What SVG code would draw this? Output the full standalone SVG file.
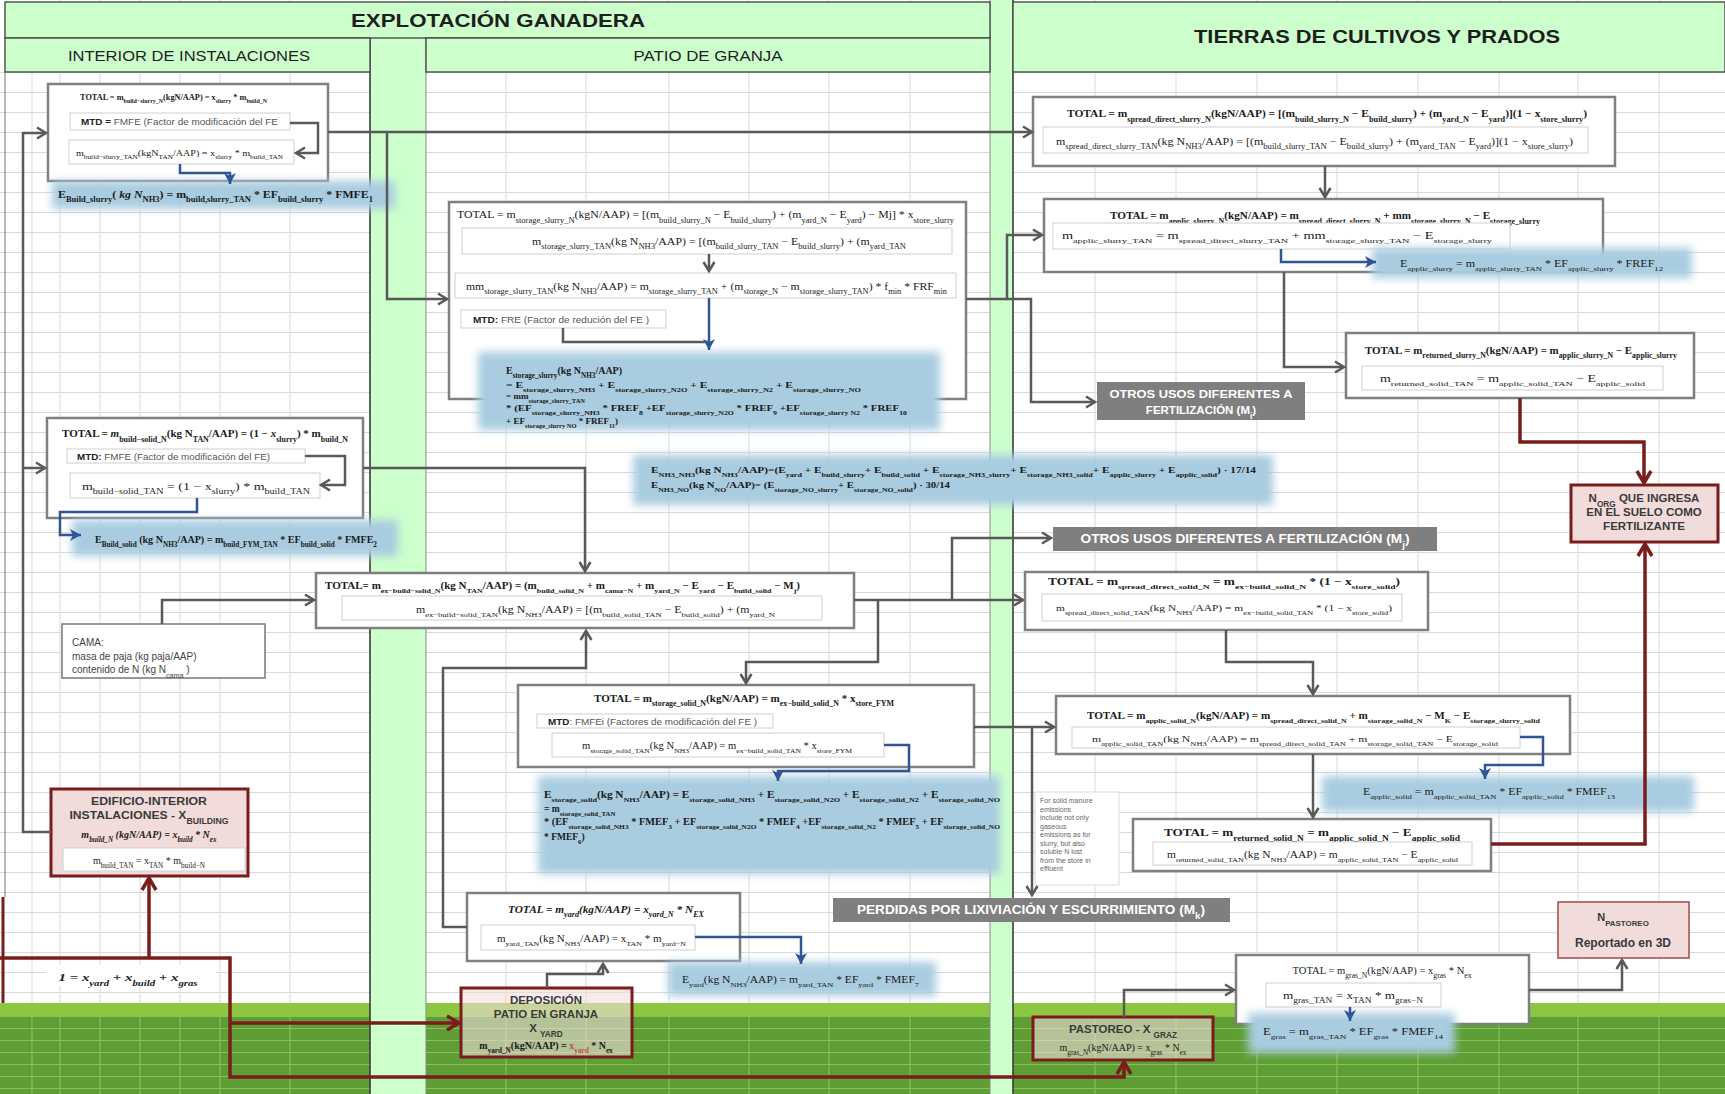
<svg xmlns="http://www.w3.org/2000/svg" width="1725" height="1094" viewBox="0 0 1725 1094">
<defs>
<style>
.bx{fill:#fff;stroke:#7f7f7f;stroke-width:2.5}
.in{fill:#fff;stroke:#cfcfcf;stroke-width:1}
.rd{fill:#f2dcdb;stroke:#7a1c1c;stroke-width:3}
.rdt{fill:#f2dcdb;fill-opacity:.6;stroke:#7a1c1c;stroke-width:3}
.gb{fill:#7f7f7f}
.gl{fill:#a9cce0;filter:url(#blur)}
.f{font-family:"Liberation Serif","DejaVu Serif",serif;fill:#1a1a1a}
.b{font-weight:bold}
.it{font-style:italic}
.s{font-size:72%;baseline-shift:sub}
.sa{font-family:"Liberation Sans",Arial,sans-serif}
.wt{fill:#fff;font-weight:bold;font-family:"Liberation Sans",Arial,sans-serif}
.dr{fill:#3a3a3a;font-weight:bold;font-family:"Liberation Sans",Arial,sans-serif}
.hd{fill:#1e1e1e;font-family:"Liberation Sans",Arial,sans-serif}
.cg{fill:none;stroke:#595959;stroke-width:2.5;marker-end:url(#ag)}
.cb{fill:none;stroke:#2f5597;stroke-width:2.5;marker-end:url(#ab)}
.cr{fill:none;stroke:#7a1c1c;stroke-width:3.5;marker-end:url(#ar)}
.nm{fill:none;stroke:#595959;stroke-width:2.5}
</style>
<filter id="blur" x="-10%" y="-40%" width="120%" height="180%"><feGaussianBlur stdDeviation="4"/></filter>
<pattern id="rows" patternUnits="userSpaceOnUse" x="0" y="72" width="40" height="20"><path d="M0,0.5H40" stroke="#d9d9d9" stroke-width="1"/></pattern>
<pattern id="grows" patternUnits="userSpaceOnUse" x="0" y="1016" width="40" height="12"><path d="M0,0.5H40" stroke="#86c060" stroke-width="1.2"/></pattern>
<marker id="ag" markerUnits="userSpaceOnUse" markerWidth="14" markerHeight="14" refX="11" refY="7" orient="auto"><path d="M2,1.5L11,7L2,12.5" fill="none" stroke="#595959" stroke-width="2.5"/></marker>
<marker id="ab" markerUnits="userSpaceOnUse" markerWidth="14" markerHeight="14" refX="11" refY="7" orient="auto"><path d="M0,1L11,7L0,13L3,7z" fill="#2f5597"/></marker>
<marker id="ar" markerUnits="userSpaceOnUse" markerWidth="18" markerHeight="18" refX="14" refY="9" orient="auto"><path d="M2,2L14,9L2,16" fill="none" stroke="#7a1c1c" stroke-width="3.5"/></marker>
</defs>

<!-- background grid -->
<rect x="0" y="0" width="1725" height="1094" fill="#fff"/>
<rect x="0" y="72" width="1725" height="931" fill="url(#rows)"/>
<path d="M32,0V1003M60,0V1003M100,0V1003M140,0V1003M180,0V1003M220,0V1003M290,0V1003M506,0V1003M586,0V1003M669,0V1003M749,0V1003M829,0V1003M910,0V1003M1095,0V1003M1176,0V1003M1257,0V1003M1337,0V1003M1418,0V1003M1499,0V1003M1578,0V1003M1659,0V1003" stroke="#d9d9d9" stroke-width="1"/>
<!-- grass -->
<rect x="0" y="1003" width="1725" height="91" fill="#5e9e35"/>
<rect x="0" y="1016" width="1725" height="78" fill="url(#grows)"/>
<path d="M32,1016V1094M60,1016V1094M100,1016V1094M140,1016V1094M180,1016V1094M220,1016V1094M290,1016V1094M506,1016V1094M586,1016V1094M669,1016V1094M749,1016V1094M829,1016V1094M910,1016V1094M1095,1016V1094M1176,1016V1094M1257,1016V1094M1337,1016V1094M1418,1016V1094M1499,1016V1094M1578,1016V1094M1659,1016V1094" stroke="#86c060" stroke-width="1.2"/>
<rect x="0" y="1003" width="1725" height="13" fill="#8dc63f"/>
<!-- light green columns -->
<rect x="370" y="38" width="56" height="1056" fill="#ccffcc"/>
<rect x="990" y="0" width="23" height="1094" fill="#ccffcc"/>
<path d="M426,38V1094M990,0V1094" stroke="#8a8a8a" stroke-width="1"/>
<path d="M370,38V1094M1013,0V1094" stroke="#3a3a3a" stroke-width="1.6"/>
<path d="M5,72V897" stroke="#8a8a8a" stroke-width="1.2"/>

<!-- headers -->
<g id="header-explotacion">
<rect x="5" y="2" width="985" height="36" fill="#ccffcc" stroke="#4a4a4a" stroke-width="1.4"/>
<text class="hd b" x="498" y="27" font-size="18" text-anchor="middle" textLength="294" lengthAdjust="spacingAndGlyphs">EXPLOTACIÓN GANADERA</text>
</g>
<g id="header-interior">
<rect x="5" y="38" width="365" height="34" fill="#ccffcc" stroke="#4a4a4a" stroke-width="1.4"/>
<text class="hd" x="189" y="61" font-size="15" text-anchor="middle" textLength="242" lengthAdjust="spacingAndGlyphs">INTERIOR DE INSTALACIONES</text>
</g>
<g id="header-patio">
<rect x="426" y="38" width="564" height="34" fill="#ccffcc" stroke="#4a4a4a" stroke-width="1.4"/>
<text class="hd" x="708" y="61" font-size="15" text-anchor="middle" textLength="149" lengthAdjust="spacingAndGlyphs">PATIO DE GRANJA</text>
</g>
<g id="header-tierras">
<rect x="1013" y="2" width="712" height="70" fill="#ccffcc" stroke="#4a4a4a" stroke-width="1.4"/>
<text class="hd b" x="1377" y="43" font-size="19" text-anchor="middle" textLength="366" lengthAdjust="spacingAndGlyphs">TIERRAS DE CULTIVOS Y PRADOS</text>
</g>

<!-- NODES -->
<g id="build-slurry">
<rect class="bx" x="48" y="84" width="280" height="97"/>
<text class="f b" x="80" y="100" font-size="8.5" textLength="187" lengthAdjust="spacingAndGlyphs">TOTAL = m<tspan class="s">build−slurry_N</tspan>(kgN/AAP) = x<tspan class="s">slurry</tspan> * m<tspan class="s">build_N</tspan></text>
<rect class="in" x="70" y="113" width="220" height="17"/>
<text class="sa" x="81" y="125" font-size="9" fill="#555" textLength="197" lengthAdjust="spacingAndGlyphs"><tspan font-weight="bold" fill="#222">MTD = </tspan> FMFE (Factor de modificación del FE</text>
<rect class="in" x="69" y="140" width="225" height="24"/>
<text class="f" x="76" y="156" font-size="8.5" textLength="207" lengthAdjust="spacingAndGlyphs">m<tspan class="s">build−slurry_TAN</tspan>(kgN<tspan class="s">TAN</tspan>/AAP) = x<tspan class="s">slurry</tspan> * m<tspan class="s">build_TAN</tspan></text>
</g>

<g id="storage-slurry">
<rect class="bx" x="449" y="202" width="517" height="197"/>
<text class="f" x="457" y="218" font-size="10.5" textLength="497" lengthAdjust="spacingAndGlyphs">TOTAL = m<tspan class="s">storage_slurry_N</tspan>(kgN/AAP) = [(m<tspan class="s">build_slurry_N</tspan> − E<tspan class="s">build_slurry</tspan>) + (m<tspan class="s">yard_N</tspan> − E<tspan class="s">yard</tspan>) − Mj] * x<tspan class="s">store_slurry</tspan></text>
<rect class="in" x="462" y="228" width="490" height="26"/>
<text class="f" x="532" y="245" font-size="10" textLength="374" lengthAdjust="spacingAndGlyphs">m<tspan class="s">storage_slurry_TAN</tspan>(kg N<tspan class="s">NH3</tspan>/AAP) = [(m<tspan class="s">build_slurry_TAN</tspan> − E<tspan class="s">build_slurry</tspan>) + (m<tspan class="s">yard_TAN</tspan></text>
<rect class="in" x="455" y="273" width="501" height="25"/>
<text class="f" x="466" y="290" font-size="10" textLength="481" lengthAdjust="spacingAndGlyphs">mm<tspan class="s">storage_slurry_TAN</tspan>(kg N<tspan class="s">NH3</tspan>/AAP) = m<tspan class="s">storage_slurry_TAN</tspan> + (m<tspan class="s">storage_N</tspan> − m<tspan class="s">storage_slurry_TAN</tspan>) * f<tspan class="s">min</tspan> * FRF<tspan class="s">min</tspan></text>
<rect class="in" x="461" y="310" width="205" height="18"/>
<text class="sa" x="473" y="323" font-size="9" fill="#555" textLength="176" lengthAdjust="spacingAndGlyphs"><tspan font-weight="bold" fill="#222">MTD:</tspan>  FRE (Factor de redución del FE )</text>
</g>

<g id="build-solid">
<rect class="bx" x="47" y="418" width="316" height="100"/>
<text class="f b" x="62" y="437" font-size="10.5" textLength="286" lengthAdjust="spacingAndGlyphs">TOTAL = <tspan class="it">m</tspan><tspan class="s">build−solid_N</tspan>(kg N<tspan class="s">TAN</tspan>/AAP) = (1 − <tspan class="it">x</tspan><tspan class="s">slurry</tspan>) * m<tspan class="s">build_N</tspan></text>
<rect class="in" x="67" y="449" width="238" height="14"/>
<text class="sa" x="77" y="460" font-size="8.5" fill="#555" textLength="193" lengthAdjust="spacingAndGlyphs"><tspan font-weight="bold" fill="#222">MTD:</tspan> FMFE (Factor de modificación del FE)</text>
<rect class="in" x="70" y="473" width="250" height="25"/>
<text class="f" x="82" y="490" font-size="10" textLength="228" lengthAdjust="spacingAndGlyphs">m<tspan class="s">build−solid_TAN</tspan> = (1 − x<tspan class="s">slurry</tspan>) * m<tspan class="s">build_TAN</tspan></text>
</g>

<g id="cama">
<rect x="62" y="624" width="203" height="54" fill="#fff" stroke="#777" stroke-width="1.5"/>
<text class="sa" x="72" y="646" font-size="10" fill="#444">CAMA:</text>
<text class="sa" x="72" y="660" font-size="10" fill="#444">masa de paja (kg paja/AAP)</text>
<text class="sa" x="72" y="673" font-size="10" fill="#444">contenido de N (kg N<tspan class="s">cama</tspan> )</text>
</g>

<g id="ex-build-solid">
<rect class="bx" x="316" y="573" width="538" height="55"/>
<text class="f b" x="325" y="589" font-size="9.5" textLength="475" lengthAdjust="spacingAndGlyphs">TOTAL= m<tspan class="s">ex−build−solid_N</tspan>(kg N<tspan class="s">TAN</tspan>/AAP) = (m<tspan class="s">build_solid_N</tspan> + m<tspan class="s">cama−N</tspan> + m<tspan class="s">yard_N</tspan> − E<tspan class="s">yard</tspan> − E<tspan class="s">build_solid</tspan> − M<tspan class="s">j</tspan>)</text>
<rect class="in" x="342" y="596" width="480" height="24"/>
<text class="f" x="416" y="613" font-size="9.5" textLength="359" lengthAdjust="spacingAndGlyphs">m<tspan class="s">ex−build−solid_TAN</tspan>(kg N<tspan class="s">NH3</tspan>/AAP) = [(m<tspan class="s">build_solid_TAN</tspan> − E<tspan class="s">build_solid</tspan>) + (m<tspan class="s">yard_N</tspan></text>
</g>

<g id="storage-solid">
<rect class="bx" x="518" y="685" width="456" height="82"/>
<text class="f b" x="594" y="702" font-size="10" textLength="300" lengthAdjust="spacingAndGlyphs">TOTAL =  m<tspan class="s">storage_solid_N</tspan>(kgN/AAP) = m<tspan class="s">ex−build_solid_N</tspan> * x<tspan class="s">store_FYM</tspan></text>
<rect class="in" x="537" y="714" width="236" height="14"/>
<text class="sa" x="548" y="725" font-size="8.5" fill="#555" textLength="209" lengthAdjust="spacingAndGlyphs"><tspan font-weight="bold" fill="#222">MTD</tspan>: FMFEi (Factores de modificación del FE )</text>
<rect class="in" x="552" y="733" width="332" height="24"/>
<text class="f" x="582" y="749" font-size="9.5" textLength="270" lengthAdjust="spacingAndGlyphs">m<tspan class="s">storage_solid_TAN</tspan>(kg N<tspan class="s">NH3</tspan>/AAP) = m<tspan class="s">ex−build_solid_TAN</tspan> * x<tspan class="s">store_FYM</tspan></text>
</g>

<g id="spread-direct-slurry">
<rect class="bx" x="1033" y="97" width="582" height="69"/>
<text class="f b" x="1067" y="117" font-size="10.5" textLength="520" lengthAdjust="spacingAndGlyphs">TOTAL =  m<tspan class="s">spread_direct_slurry_N</tspan>(kgN/AAP) = [(m<tspan class="s">build_slurry_N</tspan> − E<tspan class="s">build_slurry</tspan>) + (m<tspan class="s">yard_N</tspan> − E<tspan class="s">yard</tspan>)](1 − x<tspan class="s">store_slurry</tspan>)</text>
<rect class="in" x="1043" y="127" width="545" height="26"/>
<text class="f" x="1056" y="145" font-size="10" textLength="517" lengthAdjust="spacingAndGlyphs">m<tspan class="s">spread_direct_slurry_TAN</tspan>(kg N<tspan class="s">NH3</tspan>/AAP) = [(m<tspan class="s">build_slurry_TAN</tspan> − E<tspan class="s">build_slurry</tspan>) + (m<tspan class="s">yard_TAN</tspan> − E<tspan class="s">yard</tspan>)](1 − x<tspan class="s">store_slurry</tspan>)</text>
</g>

<g id="applic-slurry">
<rect class="bx" x="1044" y="199" width="559" height="73"/>
<text class="f b" x="1110" y="219" font-size="10.5" textLength="430" lengthAdjust="spacingAndGlyphs">TOTAL =  m<tspan class="s">applic_slurry_N</tspan>(kgN/AAP) = m<tspan class="s">spread_direct_slurry_N</tspan> + mm<tspan class="s">storage_slurry_N</tspan> − E<tspan class="s">storage_slurry</tspan></text>
<rect class="in" x="1053" y="223" width="457" height="26"/>
<text class="f" x="1062" y="239" font-size="9.5" textLength="430" lengthAdjust="spacingAndGlyphs">m<tspan class="s">applic_slurry_TAN</tspan> = m<tspan class="s">spread_direct_slurry_TAN</tspan> + mm<tspan class="s">storage_slurry_TAN</tspan> − E<tspan class="s">storage_slurry</tspan></text>
</g>

<g id="returned-slurry">
<rect class="bx" x="1346" y="333" width="348" height="65"/>
<text class="f b" x="1365" y="354" font-size="10" textLength="312" lengthAdjust="spacingAndGlyphs">TOTAL =  m<tspan class="s">returned_slurry_N</tspan>(kgN/AAP) = m<tspan class="s">applic_slurry_N</tspan> − E<tspan class="s">applic_slurry</tspan></text>
<rect class="in" x="1362" y="366" width="301" height="24"/>
<text class="f" x="1380" y="382" font-size="9.5" textLength="265" lengthAdjust="spacingAndGlyphs">m<tspan class="s">returned_solid_TAN</tspan> = m<tspan class="s">applic_solid_TAN</tspan> − E<tspan class="s">applic_solid</tspan></text>
</g>

<g id="otros-usos-1">
<rect class="gb" x="1097" y="382" width="208" height="38"/>
<text class="wt" x="1201" y="398" font-size="11.5" text-anchor="middle" textLength="183" lengthAdjust="spacingAndGlyphs">OTROS USOS DIFERENTES A</text>
<text class="wt" x="1201" y="414" font-size="11.5" text-anchor="middle">FERTILIZACIÓN   (M<tspan class="s">i</tspan>)</text>
</g>

<g id="norg">
<rect class="rd" x="1571" y="485" width="147" height="57"/>
<text class="dr" x="1644" y="502" font-size="11.5" text-anchor="middle">N<tspan class="s">ORG</tspan> QUE INGRESA</text>
<text class="dr" x="1644" y="516" font-size="11.5" text-anchor="middle">EN EL SUELO COMO</text>
<text class="dr" x="1644" y="530" font-size="11.5" text-anchor="middle">FERTILIZANTE</text>
</g>

<g id="otros-usos-2">
<rect class="gb" x="1053" y="527" width="384" height="24"/>
<text class="wt" x="1245" y="543" font-size="12" text-anchor="middle" textLength="329" lengthAdjust="spacingAndGlyphs">OTROS USOS DIFERENTES A  FERTILIZACIÓN   (M<tspan class="s">j</tspan>)</text>
</g>

<g id="spread-direct-solid">
<rect class="bx" x="1025" y="572" width="403" height="58"/>
<text class="f b" x="1048" y="585" font-size="9.5" textLength="352" lengthAdjust="spacingAndGlyphs">TOTAL =  m<tspan class="s">spread_direct_solid_N</tspan> = m<tspan class="s">ex−build_solid_N</tspan> * (1 − x<tspan class="s">store_solid</tspan>)</text>
<rect class="in" x="1042" y="594" width="360" height="27"/>
<text class="f" x="1056" y="611" font-size="9" textLength="336" lengthAdjust="spacingAndGlyphs">m<tspan class="s">spread_direct_solid_TAN</tspan>(kg N<tspan class="s">NH3</tspan>/AAP) = m<tspan class="s">ex−build_solid_TAN</tspan> * (1 − x<tspan class="s">store_solid</tspan>)</text>
</g>

<g id="applic-solid">
<rect class="bx" x="1056" y="696" width="514" height="58"/>
<text class="f b" x="1087" y="719" font-size="9.5" textLength="453" lengthAdjust="spacingAndGlyphs">TOTAL = m<tspan class="s">applic_solid_N</tspan>(kgN/AAP) = m<tspan class="s">spread_direct_solid_N</tspan> + m<tspan class="s">storage_solid_N</tspan> − M<tspan class="s">K</tspan> − E<tspan class="s">storage_slurry_solid</tspan></text>
<rect class="in" x="1072" y="727" width="448" height="21"/>
<text class="f" x="1092" y="742" font-size="9" textLength="406" lengthAdjust="spacingAndGlyphs">m<tspan class="s">applic_solid_TAN</tspan>(kg N<tspan class="s">NH3</tspan>/AAP) = m<tspan class="s">spread_direct_solid_TAN</tspan> + m<tspan class="s">storage_solid_TAN</tspan> − E<tspan class="s">storage_solid</tspan></text>
</g>

<g id="note-solid">
<rect x="1035" y="792" width="84" height="93" fill="#fff" stroke="#dcdcdc" stroke-width="1"/>
<text class="sa" font-size="7" fill="#666"><tspan x="1040" y="803">For solid manure</tspan><tspan x="1040" y="811.5">emissions</tspan><tspan x="1040" y="820">include not only</tspan><tspan x="1040" y="828.5">gaseous</tspan><tspan x="1040" y="837">emissions as for</tspan><tspan x="1040" y="845.5">slurry, but also</tspan><tspan x="1040" y="854">soluble N lost</tspan><tspan x="1040" y="862.5">from the store in</tspan><tspan x="1040" y="871">effluent</tspan></text>
</g>

<g id="returned-solid">
<rect class="bx" x="1133" y="819" width="358" height="52"/>
<text class="f b" x="1164" y="836" font-size="10.5" textLength="296" lengthAdjust="spacingAndGlyphs">TOTAL =  m<tspan class="s">returned_solid_N</tspan> = m<tspan class="s">applic_solid_N</tspan> − E<tspan class="s">applic_solid</tspan></text>
<rect class="in" x="1153" y="842" width="319" height="23"/>
<text class="f" x="1167" y="858" font-size="9.5" textLength="291" lengthAdjust="spacingAndGlyphs">m<tspan class="s">returned_solid_TAN</tspan>(kg N<tspan class="s">NH3</tspan>/AAP) = m<tspan class="s">applic_solid_TAN</tspan> − E<tspan class="s">applic_solid</tspan></text>
</g>

<g id="perdidas">
<rect class="gb" x="833" y="898" width="397" height="24"/>
<text class="wt" x="1031" y="914" font-size="12" text-anchor="middle" textLength="348" lengthAdjust="spacingAndGlyphs">PERDIDAS POR LIXIVIACIÓN Y ESCURRIMIENTO (M<tspan class="s">k</tspan>)</text>
</g>

<g id="edificio">
<rect class="rd" x="51" y="789" width="197" height="87"/>
<text class="dr" x="149" y="805" font-size="11.5" text-anchor="middle" textLength="116" lengthAdjust="spacingAndGlyphs">EDIFICIO-INTERIOR</text>
<text class="dr" x="149" y="819" font-size="11.5" text-anchor="middle" textLength="159" lengthAdjust="spacingAndGlyphs">INSTALACIONES - X<tspan class="s">BUILDING</tspan></text>
<text class="f b it" x="149" y="838" font-size="10" text-anchor="middle">m<tspan class="s">build_N</tspan> (kgN/AAP) = x<tspan class="s">build</tspan> * N<tspan class="s">ex</tspan></text>
<rect class="in" x="63" y="848" width="182" height="23"/>
<text class="f" x="149" y="864" font-size="10" text-anchor="middle">m<tspan class="s">build_TAN</tspan> = x<tspan class="s">TAN</tspan> * m<tspan class="s">build−N</tspan></text>
</g>

<g id="reparto">
<rect x="46" y="965" width="170" height="21" fill="#fff"/>
<text class="f b it" x="128" y="981" font-size="11" text-anchor="middle" textLength="139" lengthAdjust="spacingAndGlyphs">1 = x<tspan class="s">yard</tspan> + x<tspan class="s">build</tspan> + x<tspan class="s">gras</tspan></text>
</g>

<g id="yard">
<rect class="bx" x="467" y="893" width="273" height="68"/>
<text class="f b it" x="508" y="913" font-size="10" textLength="196" lengthAdjust="spacingAndGlyphs">TOTAL = m<tspan class="s">yard</tspan>(kgN/AAP) = x<tspan class="s">yard_N</tspan> * N<tspan class="s">EX</tspan></text>
<rect class="in" x="481" y="925" width="214" height="25"/>
<text class="f" x="497" y="942" font-size="9.5" textLength="189" lengthAdjust="spacingAndGlyphs">m<tspan class="s">yard_TAN</tspan>(kg N<tspan class="s">NH3</tspan>/AAP) = x<tspan class="s">TAN</tspan> * m<tspan class="s">yard−N</tspan></text>
</g>

<g id="deposicion">
<rect class="rdt" x="461" y="988" width="171" height="69"/>
<text class="dr" x="546" y="1004" font-size="11.5" text-anchor="middle">DEPOSICIÓN</text>
<text class="dr" x="546" y="1018" font-size="11.5" text-anchor="middle">PATIO EN  GRANJA</text>
<text class="dr" x="546" y="1032" font-size="11.5" text-anchor="middle">X <tspan class="s">YARD</tspan></text>
<text class="f b" x="546" y="1049" font-size="10" text-anchor="middle">m<tspan class="s">yard_N</tspan>(kgN/AAP) = <tspan fill="#c0504d">x<tspan class="s">yard</tspan></tspan> * N<tspan class="s">ex</tspan></text>
</g>

<g id="pastoreo">
<rect class="rdt" x="1033" y="1017" width="180" height="43"/>
<text class="dr" x="1123" y="1033" font-size="11.5" text-anchor="middle">PASTOREO - X <tspan class="s">GRAZ</tspan></text>
<text class="f" x="1123" y="1051" font-size="10" text-anchor="middle">m<tspan class="s">gras_N</tspan>(kgN/AAP) = x<tspan class="s">gras</tspan> * N<tspan class="s">ex</tspan></text>
</g>

<g id="gras">
<rect class="bx" x="1236" y="955" width="293" height="69"/>
<text class="f" x="1382" y="974" font-size="10" text-anchor="middle" textLength="179" lengthAdjust="spacingAndGlyphs">TOTAL = m<tspan class="s">gras_N</tspan>(kgN/AAP) = x<tspan class="s">gras</tspan> * N<tspan class="s">ex</tspan></text>
<rect class="in" x="1266" y="983" width="175" height="24"/>
<text class="f" x="1353" y="999" font-size="10" text-anchor="middle" textLength="140" lengthAdjust="spacingAndGlyphs">m<tspan class="s">gras_TAN</tspan> = x<tspan class="s">TAN</tspan> * m<tspan class="s">gras−N</tspan></text>
</g>

<g id="npastoreo">
<rect x="1558" y="902" width="131" height="56" fill="#f2dcdb" stroke="#a04848" stroke-width="1.5"/>
<text class="dr" x="1623" y="921" font-size="11" text-anchor="middle">N<tspan class="s">PASTOREO</tspan></text>
<text class="dr" x="1623" y="947" font-size="12" text-anchor="middle">Reportado en 3D</text>
</g>

<!-- emission (blue) nodes -->
<g id="e-build-slurry">
<rect class="gl" x="52" y="181" width="343" height="28"/>
<text class="f b" x="58" y="198" font-size="10" textLength="315" lengthAdjust="spacingAndGlyphs">E<tspan class="s">Build_slurry</tspan>( <tspan class="it">kg N</tspan><tspan class="s">NH3</tspan>) = m<tspan class="s">build,slurry_TAN</tspan> * EF<tspan class="s">build_slurry</tspan> * FMFE<tspan class="s">1</tspan></text>
</g>
<g id="e-storage-slurry">
<rect class="gl" x="478" y="352" width="462" height="78"/>
<text class="f b" x="506" y="374" font-size="10">E<tspan class="s">storage_slurry</tspan>(kg N<tspan class="s">NH3</tspan>/AAP)</text>
<text class="f b" x="506" y="388" font-size="9" textLength="355" lengthAdjust="spacingAndGlyphs">= E<tspan class="s">storage_slurry_NH3</tspan> + E<tspan class="s">storage_slurry_N2O</tspan> + E<tspan class="s">storage_slurry_N2</tspan> + E<tspan class="s">storage_slurry_NO</tspan></text>
<text class="f b" x="506" y="399" font-size="9">= mm<tspan class="s">storage_slurry_TAN</tspan></text>
<text class="f b" x="506" y="411" font-size="9" textLength="401" lengthAdjust="spacingAndGlyphs">* (EF<tspan class="s">storage_slurry_NH3</tspan> * FREF<tspan class="s">8</tspan> +EF<tspan class="s">storage_slurry_N2O</tspan> * FREF<tspan class="s">9</tspan> +EF<tspan class="s">storage_slurry N2</tspan> * FREF<tspan class="s">10</tspan></text>
<text class="f b" x="506" y="424" font-size="9">+ EF<tspan class="s">storage_slurry NO</tspan> * FREF<tspan class="s">11</tspan>)</text>
</g>
<g id="e-build-solid">
<rect class="gl" x="72" y="520" width="326" height="36"/>
<text class="f b" x="95" y="543" font-size="10" textLength="282" lengthAdjust="spacingAndGlyphs">E<tspan class="s">Build_solid</tspan> (kg N<tspan class="s">NH3</tspan>/AAP) = m<tspan class="s">build_FYM_TAN</tspan> * EF<tspan class="s">build_solid</tspan> * FMFE<tspan class="s">2</tspan></text>
</g>
<g id="e-nh3-no">
<rect class="gl" x="633" y="455" width="640" height="50"/>
<text class="f b" x="651" y="473" font-size="9" textLength="605" lengthAdjust="spacingAndGlyphs">E<tspan class="s">NH3_NH3</tspan>(kg N<tspan class="s">NH3</tspan>/AAP)=(E<tspan class="s">yard</tspan> + E<tspan class="s">build_slurry</tspan>+  E<tspan class="s">build_solid</tspan> + E<tspan class="s">storage_NH3_slurry</tspan>+  E<tspan class="s">storage_NH3_solid</tspan>+  E<tspan class="s">applic_slurry</tspan> + E<tspan class="s">applic_solid</tspan>) · 17/14</text>
<text class="f b" x="651" y="488" font-size="9" textLength="299" lengthAdjust="spacingAndGlyphs">E<tspan class="s">NH3_NO</tspan>(kg N<tspan class="s">NO</tspan>/AAP)= (E<tspan class="s">storage_NO_slurry</tspan>+  E<tspan class="s">storage_NO_solid</tspan>) · 30/14</text>
</g>
<g id="e-applic-slurry">
<rect class="gl" x="1372" y="248" width="320" height="30"/>
<text class="f" x="1400" y="267" font-size="9.5" textLength="263" lengthAdjust="spacingAndGlyphs">E<tspan class="s">applic_slurry</tspan> = m<tspan class="s">applic_slurry_TAN</tspan> * EF<tspan class="s">applic_slurry</tspan> * FREF<tspan class="s">12</tspan></text>
</g>
<g id="e-storage-solid">
<rect class="gl" x="538" y="776" width="462" height="98"/>
<text class="f b" x="544" y="798" font-size="9.5" textLength="456" lengthAdjust="spacingAndGlyphs">E<tspan class="s">storage_solid</tspan>(kg N<tspan class="s">NH3</tspan>/AAP) = E<tspan class="s">storage_solid_NH3</tspan> + E<tspan class="s">storage_solid_N2O</tspan> + E<tspan class="s">storage_solid_N2</tspan> + E<tspan class="s">storage_solid_NO</tspan></text>
<text class="f b" x="544" y="812" font-size="9.5">= m<tspan class="s">storage_solid_TAN</tspan></text>
<text class="f b" x="544" y="825" font-size="9.5" textLength="456" lengthAdjust="spacingAndGlyphs">* (EF<tspan class="s">storage_solid_NH3</tspan> * FMEF<tspan class="s">3</tspan> + EF<tspan class="s">storage_solid_N2O</tspan> * FMEF<tspan class="s">4</tspan> +EF<tspan class="s">storage_solid_N2</tspan> * FMEF<tspan class="s">5</tspan>  + EF<tspan class="s">storage_solid_NO</tspan></text>
<text class="f b" x="544" y="840" font-size="9.5">* FMEF<tspan class="s">6</tspan>)</text>
</g>
<g id="e-applic-solid">
<rect class="gl" x="1322" y="776" width="372" height="36"/>
<text class="f" x="1363" y="795" font-size="9.5" textLength="252" lengthAdjust="spacingAndGlyphs">E<tspan class="s">applic_solid</tspan> = m<tspan class="s">applic_solid_TAN</tspan> * EF<tspan class="s">applic_solid</tspan> * FMEF<tspan class="s">13</tspan></text>
</g>
<g id="e-yard">
<rect class="gl" x="668" y="962" width="268" height="34"/>
<text class="f" x="682" y="983" font-size="9.5" textLength="237" lengthAdjust="spacingAndGlyphs">E<tspan class="s">yard</tspan>(kg N<tspan class="s">NH3</tspan>/AAP) = m<tspan class="s">yard_TAN</tspan> * EF<tspan class="s">yard</tspan> * FMEF<tspan class="s">7</tspan></text>
</g>
<g id="e-gras">
<rect class="gl" x="1248" y="1013" width="207" height="40"/>
<text class="f" x="1263" y="1035" font-size="9.5" textLength="180" lengthAdjust="spacingAndGlyphs">E<tspan class="s">gras</tspan> = m<tspan class="s">gras_TAN</tspan> * EF<tspan class="s">gras</tspan> * FMEF<tspan class="s">14</tspan></text>
</g>

<!-- CONNECTORS -->
<g id="connectors">
<path class="cg" d="M51,832H23V133H46"/>
<path class="cg" d="M23,468H45"/>
<path class="cg" d="M328,132H1032"/>
<path class="cg" d="M387,132V299H447"/>
<path class="cg" d="M290,123H318V153H296"/>
<path class="cg" d="M305,456H345V485H321"/>
<path class="cg" d="M363,468H585V571"/>
<path class="cg" d="M162,624V600H314"/>
<path class="cg" d="M467,927H443V668H586V631"/>
<path class="cg" d="M966,299H1007V235H1042"/>
<path class="cg" d="M1007,299H1031V402H1095"/>
<path class="nm" d="M563,328V342H709"/>
<path class="cg" d="M709,254V271"/>
<path class="cg" d="M1325,166V197"/>
<path class="cg" d="M1284,272V367H1344"/>
<path class="cg" d="M854,600H1023"/>
<path class="cg" d="M952,600V538H1051"/>
<path class="cg" d="M878,600V662H746V683"/>
<path class="cg" d="M1226,630V662H1313V694"/>
<path class="cg" d="M974,727H1054"/>
<path class="cg" d="M1032,727V895"/>
<path class="cg" d="M1313,754V817"/>
<path class="cg" d="M547,988V974H603V964"/>
<path class="cg" d="M1124,1017V990H1234"/>
<path class="cg" d="M1529,990H1622V960"/>
<path class="cb" d="M180,164V173H230V184"/>
<path class="cb" d="M197,498V512H60V535H81"/>
<path class="cb" d="M709,298V350"/>
<path class="cb" d="M1281,249V262H1376"/>
<path class="cb" d="M884,745H909V771H778V781"/>
<path class="cb" d="M1520,737H1543V765H1485V779"/>
<path class="cb" d="M695,937H801V964"/>
<path class="cb" d="M1350,1007V1021"/>
<path class="cr" d="M1520,398V442H1644V483"/>
<path class="cr" d="M1491,844H1645V544"/>
<path class="cr" d="M0,958H230V1077H1124V1062"/>
<path class="cr" d="M149,958V878"/>
<path class="cr" d="M230,1023H459"/>
<path fill="none" stroke="#7a1c1c" stroke-width="3" d="M3,897V1003"/>
</g>
</svg>
